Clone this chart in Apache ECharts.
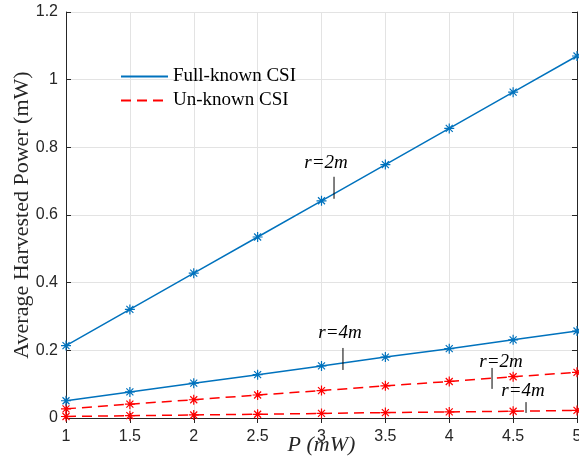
<!DOCTYPE html>
<html style="height: 100%">
<head>
    <meta charset="utf-8">
    <title>Average Harvested Power</title>
    <script type="text/javascript" src="https://cdn.jsdelivr.net/npm/echarts@6/dist/echarts.min.js"></script>
</head>
<body style="width: 100%;margin: 0;height: 100%">
<div id="container" style="width: 579px;height: 459px"></div>

<script type="application/javascript">

    // transmit power P (mW)
    var power = [1, 1.5, 2, 2.5, 3, 3.5, 4, 4.5, 5];
    // harvested power (mW)
    var fullR2 = [0.214, 0.321, 0.428, 0.535, 0.642, 0.749, 0.856, 0.963, 1.070];
    var fullR4 = [0.051, 0.077, 0.103, 0.128, 0.154, 0.180, 0.205, 0.231, 0.257];
    var unkR2 = [0.027, 0.041, 0.054, 0.068, 0.081, 0.095, 0.108, 0.122, 0.135];
    var unkR4 = [0.0045, 0.0068, 0.009, 0.011, 0.0135, 0.016, 0.018, 0.020, 0.0225];

    var xTicks = ['1', '1.5', '2', '2.5', '3', '3.5', '4', '4.5', '5'];

    // annotation text: [label, textX, textY, lineX, lineY1, lineY2] in data units
    var notes = [
        ['r=2m', 3.035, 0.754, 3.098, 0.713, 0.648],
        ['r=4m', 3.145, 0.251, 3.168, 0.207, 0.142],
        ['r=2m', 4.405, 0.166, 4.335, 0.148, 0.086],
        ['r=4m', 4.577, 0.080, 4.601, 0.047, 0.015]
    ];

    var blue = '#0072BD';
    var red = '#FF0000';
    var axisColor = '#262626';
    var star = 'path://M0,-10L0,10M-10,0L10,0M-7,-7L7,7M-7,7L7,-7';

    function pairs(ys) {
        var out = [];
        for (var i = 0; i < power.length; i++) {
            out.push([power[i], ys[i]]);
        }
        return out;
    }

    function curve(name, ys, color, dashed) {
        return {
            name: name,
            type: 'line',
            data: pairs(ys),
            symbol: star,
            symbolSize: 10,
            itemStyle: {color: color, borderColor: color, borderWidth: 1.2},
            lineStyle: {color: color, width: 1.5, type: dashed ? [10, 6] : 'solid'},
            z: dashed ? 3 : 4
        };
    }

    function legendOnly(name, color, dashed) {
        return {
            name: name,
            type: 'line',
            data: [],
            symbol: 'none',
            lineStyle: {color: color, width: 1.5, type: dashed ? [10, 6] : 'solid'},
            itemStyle: {color: color}
        };
    }

    var dom = document.getElementById("container");
    var myChart = echarts.init(dom);

    var tickLabel = {color: axisColor, fontFamily: 'Liberation Sans', fontSize: 16};
    var inTick = {show: true, inside: true, length: 5, lineStyle: {color: axisColor}};
    var axisLine = {show: true, lineStyle: {color: axisColor, width: 1}};
    var gridLine = {show: true, lineStyle: {color: '#e3e3e3', width: 1}};

    var option = {
        animation: false,
        backgroundColor: '#ffffff',
        grid: {left: 66, right: 2, top: 12, bottom: 41, containLabel: false, outerBoundsMode: 'none'},
        legend: {
            data: ['Full-known CSI', 'Un-known CSI'],
            orient: 'vertical',
            left: 115,
            top: 62,
            itemWidth: 47,
            itemHeight: 14,
            itemGap: 5,
            itemStyle: {opacity: 0},
            textStyle: {fontFamily: 'Liberation Serif', fontSize: 19, color: '#000'}
        },
        xAxis: [{
            type: 'value',
            min: 1,
            max: 5,
            interval: 0.5,
            name: 'P (mW)',
            nameLocation: 'middle',
            nameGap: 16,
            nameMoveOverlap: false,
            nameTextStyle: {fontFamily: 'Liberation Serif', fontStyle: 'italic', fontSize: 22, color: axisColor},
            axisLine: axisLine,
            axisTick: inTick,
            axisLabel: Object.assign({
                margin: 11,
                formatter: function (v) {
                    var i = Math.round((v - 1) / 0.5);
                    return xTicks[i];
                }
            }, tickLabel),
            splitLine: gridLine
        }, {
            type: 'value',
            position: 'top',
            min: 1,
            max: 5,
            interval: 0.5,
            axisLine: axisLine,
            axisTick: inTick,
            axisLabel: {show: false},
            splitLine: {show: false}
        }],
        yAxis: [{
            type: 'value',
            min: 0,
            max: 1.2,
            interval: 0.2,
            name: 'Average Harvested Power (mW)',
            nameLocation: 'middle',
            nameGap: 33,
            nameMoveOverlap: false,
            nameTextStyle: {fontFamily: 'Liberation Serif', fontSize: 22, color: axisColor},
            axisLine: axisLine,
            axisTick: inTick,
            axisLabel: Object.assign({
                margin: 8,
                formatter: function (v) {
                    return v === 0 ? '0' : (Math.round(v * 10) / 10).toString();
                }
            }, tickLabel),
            splitLine: gridLine
        }, {
            type: 'value',
            position: 'right',
            min: 0,
            max: 1.2,
            interval: 0.2,
            axisLine: axisLine,
            axisTick: inTick,
            axisLabel: {show: false},
            splitLine: {show: false}
        }],
        series: [
            legendOnly('Full-known CSI', blue, false),
            legendOnly('Un-known CSI', red, true),
            curve('full r=2m', fullR2, blue, false),
            curve('full r=4m', fullR4, blue, false),
            curve('unknown r=2m', unkR2, red, true),
            curve('unknown r=4m', unkR4, red, true)
        ]
    };

    myChart.setOption(option, true);

    // annotations placed through the axes
    var graphics = [];
    for (var i = 0; i < notes.length; i++) {
        var n = notes[i];
        var t = myChart.convertToPixel({xAxisIndex: 0, yAxisIndex: 0}, [n[1], n[2]]);
        var a = myChart.convertToPixel({xAxisIndex: 0, yAxisIndex: 0}, [n[3], n[4]]);
        var b = myChart.convertToPixel({xAxisIndex: 0, yAxisIndex: 0}, [n[3], n[5]]);
        graphics.push({
            type: 'text',
            x: t[0],
            y: t[1],
            z: 10,
            style: {
                text: n[0],
                fill: '#000',
                font: 'italic 19px "Liberation Serif"',
                align: 'center',
                verticalAlign: 'middle'
            }
        });
        graphics.push({
            type: 'line',
            z: 10,
            shape: {x1: a[0], y1: a[1], x2: b[0], y2: b[1]},
            style: {stroke: '#000', lineWidth: 1}
        });
    }
    myChart.setOption({graphic: graphics});
</script>

</body>
</html>
